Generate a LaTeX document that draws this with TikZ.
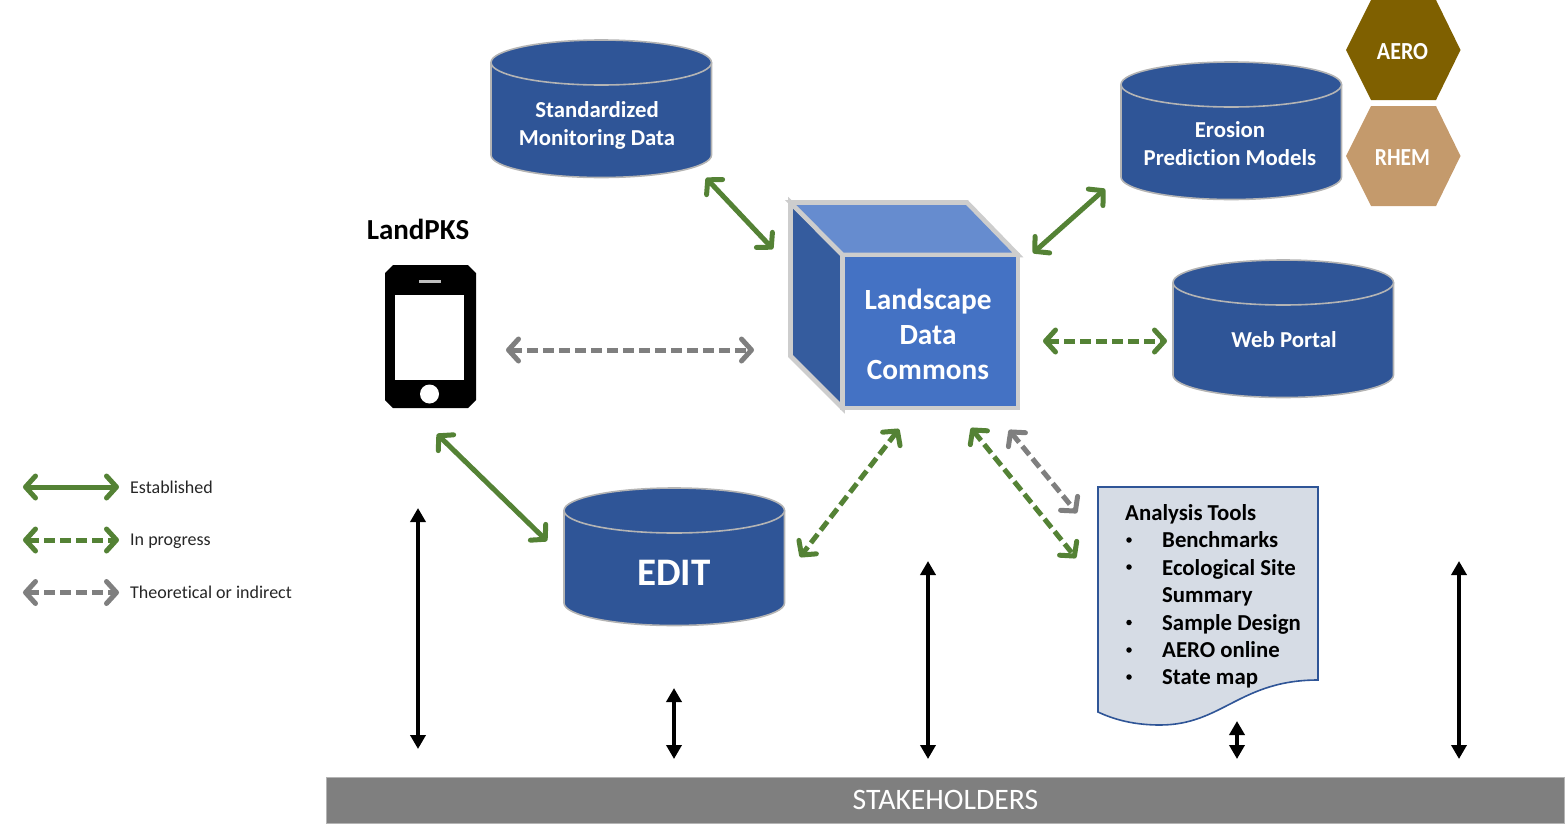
\documentclass[tikz,border=0pt]{standalone}
\usepackage{fontspec}
\setmainfont[Ligatures=NoCommon]{Carlito}
\usetikzlibrary{arrows.meta}
\definecolor{cylblue}{HTML}{2F5597}
\definecolor{cylline}{HTML}{B4B4B4}
\definecolor{cubefront}{HTML}{4472C4}
\definecolor{cubetop}{HTML}{668CCF}
\definecolor{cubeleft}{HTML}{355C9E}
\definecolor{cubeline}{HTML}{CDCDCD}
\definecolor{estgreen}{HTML}{548235}
\definecolor{theogray}{HTML}{7F7F7F}
\definecolor{aerocol}{HTML}{7F6000}
\definecolor{rhemcol}{HTML}{C49A6C}
\definecolor{docfill}{HTML}{D6DCE5}
\definecolor{docline}{HTML}{2F5597}
\newcommand{\fs}[1]{\fontsize{#1}{#1}\selectfont}
\tikzset{
  x=1pt,y=-1pt,
  cylface/.style={fill=cylblue,draw=cylline,line width=1.6pt},
  cyltext/.style={text=white,font=\fs{22.8}\bfseries,align=center,inner sep=0pt},
  solidlink/.style={draw=estgreen,line width=5pt,{Straight Barb[length=10pt,width=22pt,round]}-{Straight Barb[length=10pt,width=22pt,round]}},
  progresslink/.style={solidlink,dash pattern=on 11pt off 5pt},
  theorylink/.style={progresslink,draw=theogray},
  blacklink/.style={draw=black,line width=3.8pt,{Triangle[length=14pt,width=15pt]}-{Triangle[length=14pt,width=15pt]}},
  legendtext/.style={font=\fs{18},anchor=base west,inner sep=0pt,text=black!85},
  doctext/.style={font=\fs{22.8}\bfseries,anchor=base west,inner sep=0pt,text=black},
  bul/.style={circle,fill=black,minimum size=5.5pt,inner sep=0pt},
}
\newcommand{\cyl}[2]{%
  \begin{scope}[shift={(#1,#2)}]
    \draw[cylface] (0,22.5) -- (0,115) arc[start angle=180,end angle=360,x radius=110.25,y radius=-22.5] -- (220.5,22.5);
    \draw[cylface] (110.25,22.5) ellipse[x radius=110.25,y radius=22.5];
  \end{scope}}
\begin{document}
\begin{tikzpicture}
\useasboundingbox (0,0) rectangle (1567,836);

% cylinders
\cyl{491}{40}
\cyl{1121}{62}
\cyl{1173}{260}
\cyl{564}{488}
\node[cyltext] (std) at (597,125.5) {Standardized\\[5pt]Monitoring Data};
\node[cyltext] (ero) at (1230,143.5) {Erosion\\[5pt]Prediction Models};
\node[cyltext] (web) at (1284,340) {Web Portal};
\node[cyltext,font=\fs{39}\bfseries] (edit) at (674,573) {EDIT};

% hexagons
\fill[aerocol] (1346,50) -- (1371,0) -- (1436,0) -- (1460.5,50) -- (1436,100) -- (1371,100) -- cycle;
\fill[rhemcol] (1346,156) -- (1371,106) -- (1436,106) -- (1460.5,156) -- (1436,206) -- (1371,206) -- cycle;
\node[text=white,font=\fs{24.5}\bfseries,inner sep=0pt,xscale=.9] (aero) at (1402.5,51.5) {AERO};
\node[text=white,font=\fs{24.5}\bfseries,inner sep=0pt,xscale=.88] (rhem) at (1402.5,157.5) {RHEM};

% cube
\begin{scope}[draw=cubeline,line width=4.6pt,line join=miter]
  \filldraw[fill=cubeleft] (790.5,202.5) -- (842.5,255) -- (842.5,408) -- (790.5,356) -- cycle;
  \filldraw[fill=cubetop] (790.5,202.5) -- (967,202.5) -- (1018,255) -- (842.5,255) -- cycle;
  \filldraw[fill=cubefront] (842.5,255) rectangle (1018,408);
\end{scope}
\node[text=white,font=\fs{29.3}\bfseries,align=center,inner sep=0pt] (ldc) at (928,334.5) {Landscape\\[6pt]Data\\[6pt]Commons};

% phone
\node[font=\fs{29}\bfseries,inner sep=0pt] (pks) at (418,229.5) {LandPKS};
\fill[black] (393,265) -- (468,265) -- (476,273) -- (476,400) -- (468,408) -- (393,408) -- (385,400) -- (385,273) -- cycle;
\fill[white] (395,295) rectangle (463.5,380);
\fill[white!75!black] (419,280) rectangle (441,283);
\fill[white] (429.5,394) circle[radius=9.5];

% document
\filldraw[fill=docfill,draw=docline,line width=1.6pt] (1098,487) -- (1318,487) -- (1318,680)
  .. controls (1240,680) and (1222,725) .. (1160,725)
  .. controls (1135,725) and (1115,720) .. (1098,712) -- cycle;
\node[doctext] (t0) at (1125,520) {Analysis Tools};
\node[doctext] (t1) at (1162,547.5) {Benchmarks};
\node[doctext] (t2) at (1162,575) {Ecological Site};
\node[doctext] (t3) at (1162,602) {Summary};
\node[doctext] (t4) at (1162,630) {Sample Design};
\node[doctext] (t5) at (1162,657) {AERO online};
\node[doctext] (t6) at (1162,684.5) {State map};
\node[bul] (b1) at (1129,540) {};
\node[bul] (b2) at (1129,567) {};
\node[bul] (b4) at (1129,622.5) {};
\node[bul] (b5) at (1129,650) {};
\node[bul] (b6) at (1129,677) {};

% stakeholders
\node[fill=theogray,draw=cylline,line width=.6pt,minimum width=1238pt,minimum height=46pt,inner sep=0pt,text=white,font=\fs{29.7}] (stake) at (945.5,800) {STAKEHOLDERS};

% connector ends
\coordinate (a1) at (706,178);   \coordinate (a2) at (773,249);
\coordinate (b1e) at (1033,253); \coordinate (b2e) at (1105,189);
\coordinate (c1) at (437,434);   \coordinate (c2) at (547,541);
\coordinate (d1) at (1043,341);  \coordinate (d2) at (1167,341);
\coordinate (e1) at (899,429);   \coordinate (e2) at (800,557);
\coordinate (f1) at (971,428);   \coordinate (f2) at (1076,558);
\coordinate (g1) at (506,350);   \coordinate (g2) at (754,350);
\coordinate (h1) at (1009,430);  \coordinate (h2) at (1077,513);
\draw[solidlink] (a1) -- (a2);
\draw[solidlink] (b1e) -- (b2e);
\draw[solidlink] (c1) -- (c2);
\draw[progresslink] (d1) -- (d2);
\draw[progresslink] (e1) -- (e2);
\draw[progresslink] (f1) -- (f2);
\draw[theorylink] (g1) -- (g2);
\draw[theorylink] (h1) -- (h2);

% black arrows
\coordinate (k1) at (418,508);  \coordinate (k2) at (418,749);
\coordinate (l1) at (674,688);  \coordinate (l2) at (674,759);
\coordinate (m1) at (928,561);  \coordinate (m2) at (928,759);
\coordinate (n1) at (1237,721); \coordinate (n2) at (1237,759);
\coordinate (o1) at (1459,561); \coordinate (o2) at (1459,759);
\draw[blacklink] (k1) -- (k2);
\draw[blacklink] (l1) -- (l2);
\draw[blacklink] (m1) -- (m2);
\draw[blacklink] (n1) -- (n2);
\draw[blacklink] (o1) -- (o2);

% legend
\coordinate (p1) at (23,487);  \coordinate (p2) at (119,487);
\coordinate (q1) at (23,540);  \coordinate (q2) at (119,540);
\coordinate (r1) at (23,592.5);  \coordinate (r2) at (119,592.5);
\draw[solidlink] (p1) -- (p2);
\draw[progresslink] (q1) -- (q2);
\draw[theorylink] (r1) -- (r2);
\node[legendtext] (l-est) at (130,493) {Established};
\node[legendtext] (l-pro) at (130,545.5) {In progress};
\node[legendtext] (l-the) at (130,598.5) {Theoretical or indirect};
\end{tikzpicture}
\end{document}
